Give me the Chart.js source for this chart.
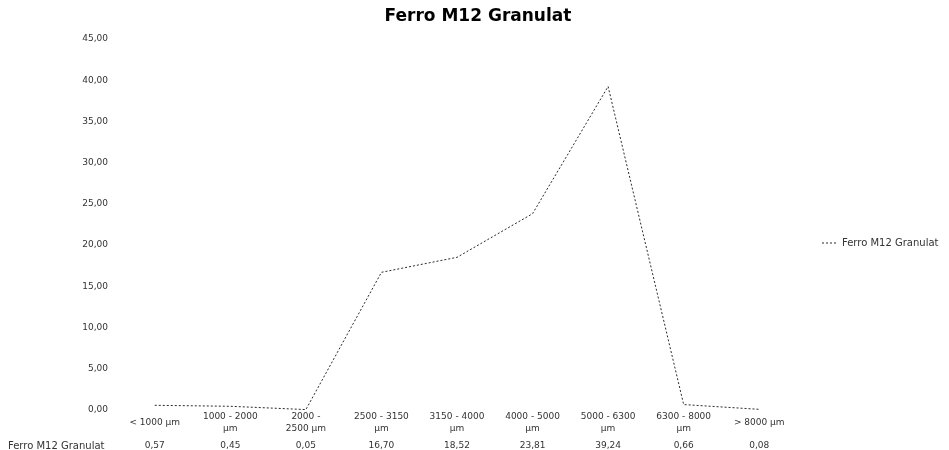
<!DOCTYPE html>
<html>
<head>
<meta charset="utf-8">
<script src="https://cdn.jsdelivr.net/npm/chart.js@4.4.1/dist/chart.umd.min.js"></script>
<style>
  html, body { margin: 0; padding: 0; background: #ffffff; }
  #wrap { width: 949px; height: 450px; position: relative; }
</style>
</head>
<body>
<div id="wrap"><canvas id="c" width="949" height="450"></canvas></div>
<script>
const chartTitle = "Ferro M12 Granulat";
const seriesName = "Ferro M12 Granulat";
const categoryLines = [
  ["< 1000 µm"],
  ["1000 - 2000", "µm"],
  ["2000 -", "2500 µm"],
  ["2500 - 3150", "µm"],
  ["3150 - 4000", "µm"],
  ["4000 - 5000", "µm"],
  ["5000 - 6300", "µm"],
  ["6300 - 8000", "µm"],
  ["> 8000 µm"]
];
const values = [0.57, 0.45, 0.05, 16.70, 18.52, 23.81, 39.24, 0.66, 0.08];
const yMin = 0, yMax = 45, yStep = 5;

const fmt = v => v.toFixed(2).replace('.', ',');
const SMALL_FONT = '9px "DejaVu Sans"';
const TEXT_COLOR = '#333333';
const LINE_COLOR = '#2a2a2a';

const tablePlugin = {
  id: 'dataTable',
  afterDraw(chart) {
    const ctx = chart.ctx;
    const xs = chart.scales.x;
    ctx.save();
    // title
    ctx.font = 'bold 17px "DejaVu Sans"';
    ctx.fillStyle = '#000000';
    ctx.textAlign = 'center';
    ctx.textBaseline = 'middle';
    ctx.fillText(chartTitle, 478, 17);

    ctx.font = SMALL_FONT;
    ctx.fillStyle = TEXT_COLOR;
    categoryLines.forEach((lines, i) => {
      const x = xs.getPixelForValue(i);
      if (lines.length === 1) {
        ctx.fillText(lines[0], x, 423);
      } else {
        ctx.fillText(lines[0], x, 417);
        ctx.fillText(lines[1], x, 429);
      }
      ctx.fillText(fmt(values[i]), x, 446);
    });
    ctx.textAlign = 'left';
    ctx.font = '10px "DejaVu Sans"';
    ctx.fillText(seriesName, 8, 446);
    // legend on the right
    const ly = 243;
    ctx.strokeStyle = LINE_COLOR;
    ctx.lineWidth = 1;
    ctx.setLineDash([2, 2]);
    ctx.beginPath();
    ctx.moveTo(822, ly);
    ctx.lineTo(838, ly);
    ctx.stroke();
    ctx.setLineDash([]);
    ctx.fillText(seriesName, 842, ly);
    ctx.restore();
  }
};

new Chart(document.getElementById('c'), {
  type: 'line',
  data: {
    labels: categoryLines.map(l => l.join(' ')),
    datasets: [{
      label: seriesName,
      data: values,
      borderColor: LINE_COLOR,
      borderWidth: 1,
      borderDash: [2, 2],
      pointRadius: 0,
      tension: 0,
      fill: false
    }]
  },
  options: {
    responsive: false,
    animation: false,
    devicePixelRatio: 1,
    layout: { padding: { left: 0, right: 152, top: 39, bottom: 40 } },
    plugins: {
      legend: { display: false },
      tooltip: { enabled: false },
      title: { display: false }
    },
    scales: {
      x: {
        type: 'category',
        display: false,
        offset: true
      },
      y: {
        min: yMin,
        max: yMax,
        grid: { display: false, drawTicks: false },
        border: { display: false },
        ticks: {
          stepSize: yStep,
          padding: 9,
          color: TEXT_COLOR,
          font: { family: '"DejaVu Sans"', size: 9 },
          callback: v => fmt(v)
        },
        afterFit(scale) { scale.width = 117; }
      }
    }
  },
  plugins: [tablePlugin]
});
</script>
</body>
</html>
